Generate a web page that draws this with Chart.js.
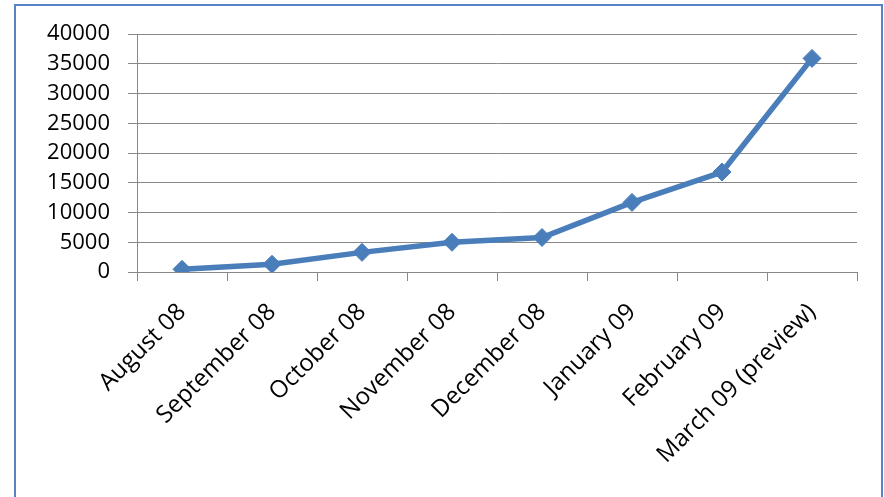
<!DOCTYPE html>
<html>
<head>
<meta charset="utf-8">
<script src="https://cdn.jsdelivr.net/npm/chart.js@4/dist/chart.umd.min.js"></script>
<style>
  html, body { margin: 0; padding: 0; background: #ffffff; }
  #wrap { position: relative; width: 884px; height: 497px; overflow: hidden; }
  #frame { position: absolute; left: 14px; top: 4px; width: 869px; height: 600px; border: 2px solid #5585C4; box-sizing: border-box; }
  #c { position: absolute; left: 0; top: 0; }
</style>
</head>
<body>
<div id="wrap">
  <div id="frame"></div>
  <canvas id="c" width="884" height="497"></canvas>
</div>
<script>
const categories = ["August 08", "September 08", "October 08", "November 08", "December 08", "January 09", "February 09", "March 09 (preview)"];
const values = [450, 1300, 3300, 5000, 5800, 11700, 16800, 35900];
const yTicks = [0, 5000, 10000, 15000, 20000, 25000, 30000, 35000, 40000];

const FONT = "'Open Sans', 'Liberation Sans', sans-serif";
const GRID = '#888888';

new Chart(document.getElementById('c'), {
  type: 'line',
  data: {
    labels: categories,
    datasets: [{
      data: values,
      borderColor: '#4A7EBB',
      backgroundColor: '#4A7EBB',
      borderWidth: 5.5,
      pointStyle: 'rectRot',
      pointRadius: 9,
      pointBorderWidth: 1,
      pointBackgroundColor: '#4A7EBB',
      pointBorderColor: '#4A7EBB',
      tension: 0,
      fill: false
    }]
  },
  options: {
    responsive: false,
    animation: false,
    devicePixelRatio: 1,
    layout: { padding: { left: 20, top: 34, right: 27, bottom: 0 } },
    plugins: { legend: { display: false }, tooltip: { enabled: false } },
    scales: {
      x: {
        type: 'category',
        offset: true,
        grid: { display: true, offset: true, drawOnChartArea: false, drawTicks: true, tickLength: 9, color: GRID, lineWidth: 1 },
        border: { display: true, color: GRID, width: 1 },
        ticks: {
          color: '#000000',
          font: { family: FONT, size: 24 },
          minRotation: 45, maxRotation: 45,
          autoSkip: false,
          padding: 17
        },
        afterFit: (axis) => { axis.height = 225; }
      },
      y: {
        min: 0, max: 40000,
        afterBuildTicks: (axis) => { axis.ticks = yTicks.map(v => ({ value: v })); },
        grid: { display: true, drawTicks: true, tickLength: 9, color: GRID, lineWidth: 1 },
        border: { display: true, color: GRID, width: 1 },
        ticks: {
          color: '#000000',
          font: { family: FONT, size: 22 },
          padding: 18,
          callback: (v) => String(v)
        },
        afterFit: (axis) => { axis.width = 117; }
      }
    }
  }
});
</script>
</body>
</html>
